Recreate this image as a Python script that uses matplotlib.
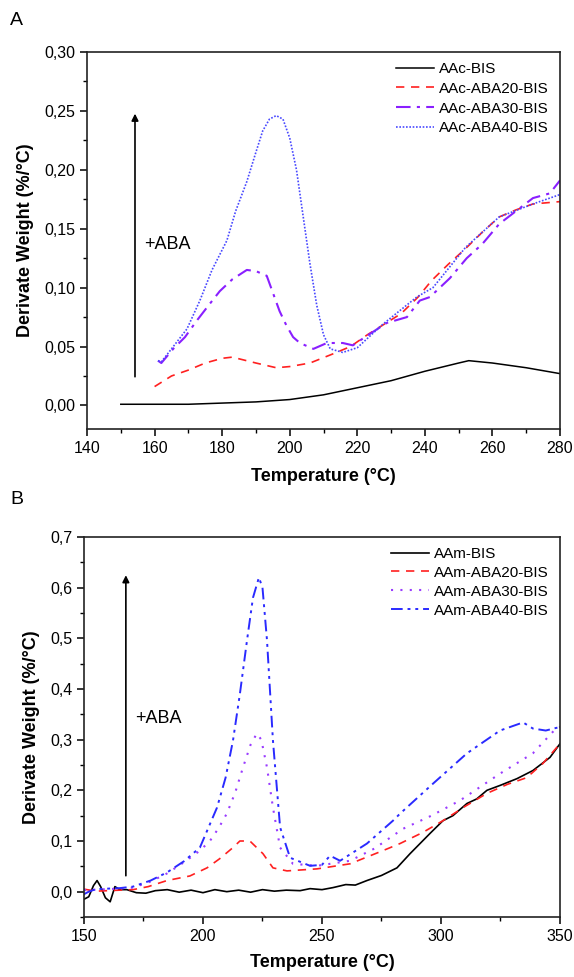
import matplotlib
matplotlib.use("Agg")
import matplotlib.pyplot as plt
from matplotlib.ticker import MultipleLocator, FuncFormatter

plt.rcParams['font.family'] = ['Liberation Sans', 'DejaVu Sans']

# ---------------- Panel A data ----------------
a_bis_T = [150, 155, 160, 165, 170, 175, 180, 190, 200, 210, 220, 230, 240, 250, 253, 260, 270, 280]
a_bis_v = [0.001, 0.001, 0.001, 0.001, 0.001, 0.0015, 0.002, 0.003, 0.005, 0.009, 0.015, 0.021, 0.029, 0.036, 0.038, 0.036, 0.032, 0.027]

a_20_T = [160, 165, 170, 175, 180, 183, 190, 196, 200, 206, 213, 218, 223, 228, 233, 238, 242, 247, 252, 257, 262, 267, 272, 280]
a_20_v = [0.016, 0.025, 0.030, 0.036, 0.040, 0.041, 0.036, 0.032, 0.033, 0.036, 0.044, 0.050, 0.060, 0.069, 0.078, 0.092, 0.106, 0.120, 0.133, 0.147, 0.160, 0.166, 0.171, 0.173]

a_30_T = [161, 162, 165.5, 169, 172.5, 176, 179.3, 183, 187.3, 190, 193.2, 197, 199, 201, 203, 207, 211, 215.7, 218.7, 222.8, 228.7, 234.7, 238.5, 241.5, 247.4, 252.4, 257, 262, 267, 272, 277, 280]
a_30_v = [0.038, 0.036, 0.048, 0.058, 0.072, 0.085, 0.097, 0.107, 0.115, 0.114, 0.110, 0.080, 0.068, 0.058, 0.053, 0.048, 0.053, 0.053, 0.051, 0.059, 0.070, 0.075, 0.089, 0.092, 0.108, 0.125, 0.137, 0.154, 0.165, 0.176, 0.180, 0.191]

a_40_T = [161, 162, 165, 169.6, 173.4, 177, 181.4, 184, 187.3, 190, 192, 194, 196, 198, 200, 202, 204, 206, 208, 210, 212, 215.7, 220, 227.6, 237.6, 242.4, 252, 262, 272, 280]
a_40_v = [0.038, 0.037, 0.048, 0.065, 0.089, 0.115, 0.140, 0.165, 0.190, 0.215, 0.233, 0.243, 0.246, 0.243, 0.227, 0.200, 0.160, 0.120, 0.085, 0.060, 0.048, 0.045, 0.049, 0.069, 0.092, 0.100, 0.134, 0.160, 0.171, 0.179]

# ---------------- Panel B data ----------------
b_bis_T = [150, 152, 154, 155.5, 157, 159, 161, 163, 165, 168, 172, 176, 180, 185, 190, 195, 200, 205, 210, 215, 220, 225, 230, 235, 240.8, 245, 250, 254.6, 260, 264, 268.9, 275, 281.5, 287, 295.4, 300.8, 305, 310.9, 315, 319.3, 325, 331.9, 338.6, 345.8, 350]
b_bis_v = [-0.015, -0.010, 0.012, 0.022, 0.010, -0.012, -0.020, 0.010, 0.004, 0.004, -0.002, -0.003, 0.002, 0.004, -0.001, 0.003, -0.002, 0.004, 0.000, 0.003, -0.001, 0.004, 0.001, 0.003, 0.002, 0.006, 0.004, 0.008, 0.014, 0.013, 0.022, 0.032, 0.047, 0.075, 0.115, 0.140, 0.150, 0.174, 0.183, 0.200, 0.210, 0.223, 0.239, 0.265, 0.292]

b_20_T = [150, 155, 160, 165, 170.6, 177, 184.9, 194.5, 201.7, 207, 212.6, 215.5, 219.7, 225.2, 229.4, 235.3, 247.9, 261.8, 275.6, 282.8, 292.4, 300.8, 310, 319.3, 328, 336, 342.8, 350]
b_20_v = [0.005, 0.001, 0.002, 0.003, 0.004, 0.010, 0.022, 0.031, 0.047, 0.065, 0.087, 0.100, 0.100, 0.075, 0.047, 0.041, 0.045, 0.055, 0.081, 0.095, 0.117, 0.140, 0.168, 0.194, 0.212, 0.225, 0.253, 0.292]

b_30_T = [150, 155, 160, 165, 170.6, 178, 184.9, 192, 198.7, 202.9, 206.5, 210, 213.5, 216.8, 220, 222.6, 224.5, 226.9, 229.4, 232.4, 237.8, 247.9, 261.8, 272, 284, 296, 308, 324.8, 338.6, 348.7, 350]
b_30_v = [0.003, 0.004, 0.005, 0.006, 0.008, 0.020, 0.036, 0.058, 0.081, 0.100, 0.125, 0.154, 0.195, 0.245, 0.290, 0.312, 0.300, 0.245, 0.166, 0.087, 0.055, 0.051, 0.061, 0.085, 0.124, 0.150, 0.180, 0.233, 0.273, 0.324, 0.325]

b_40_T = [150, 152, 155, 160, 165, 170.6, 178, 184.9, 192, 198.7, 205.9, 209.5, 212.6, 215.5, 218.5, 221, 223.5, 225, 226.9, 229.4, 232.4, 236.6, 245, 250, 253.4, 257.6, 268.9, 279.8, 282.8, 296.6, 310.9, 324.8, 334.5, 338.6, 344, 350]
b_40_v = [-0.005, 0.000, 0.005, 0.006, 0.007, 0.010, 0.022, 0.038, 0.060, 0.087, 0.166, 0.225, 0.298, 0.390, 0.496, 0.580, 0.620, 0.600, 0.496, 0.298, 0.127, 0.067, 0.051, 0.053, 0.071, 0.061, 0.095, 0.140, 0.154, 0.213, 0.273, 0.318, 0.334, 0.322, 0.318, 0.325]

labels_A = ["AAc-BIS", "AAc-ABA20-BIS", "AAc-ABA30-BIS", "AAc-ABA40-BIS"]
labels_B = ["AAm-BIS", "AAm-ABA20-BIS", "AAm-ABA30-BIS", "AAm-ABA40-BIS"]

fig = plt.figure(figsize=(5.74, 9.77), dpi=100)
axA = fig.add_axes([0.1516, 0.5609, 0.824, 0.3859])
axB = fig.add_axes([0.1463, 0.0614, 0.8293, 0.3890])

def comma_fmt(decimals):
    return FuncFormatter(lambda v, p: (f"{v:.{decimals}f}").replace(".", ","))

# Panel A
axA.plot(a_bis_T, a_bis_v, color="black", lw=1.1, ls="-", label=labels_A[0])
axA.plot(a_20_T, a_20_v, color="#ff2020", lw=1.2, ls=(0, (5, 4)), label=labels_A[1])
axA.plot(a_30_T, a_30_v, color="#8a1fff", lw=1.5, ls=(0, (7, 3, 1.5, 3)), label=labels_A[2])
axA.plot(a_40_T, a_40_v, color="#4848ff", lw=1.2, ls=(0, (1, 1)), label=labels_A[3])
axA.set_xlim(140, 280)
axA.set_ylim(-0.02, 0.30)
axA.xaxis.set_major_locator(MultipleLocator(20))
axA.xaxis.set_minor_locator(MultipleLocator(10))
axA.yaxis.set_major_locator(MultipleLocator(0.05))
axA.yaxis.set_minor_locator(MultipleLocator(0.025))
axA.yaxis.set_major_formatter(comma_fmt(2))
axA.annotate("", xy=(154.2, 0.25), xytext=(154.2, 0.022),
             arrowprops=dict(arrowstyle="-|>", color="black", lw=1.2, mutation_scale=10))
axA.text(157, 0.137, "+ABA", fontsize=13, ha="left", va="center")
axA.set_xlabel("Temperature (°C)", fontsize=13, fontweight="bold", labelpad=9)
axA.set_ylabel("Derivate Weight (%/°C)", fontsize=13, fontweight="bold", labelpad=7)
fig.text(0.018, 0.979, "A", fontsize=14, ha="left", va="center")

# Panel B
axB.plot(b_bis_T, b_bis_v, color="black", lw=1.2, ls="-", label=labels_B[0])
axB.plot(b_20_T, b_20_v, color="#ff2020", lw=1.2, ls=(0, (5, 4)), label=labels_B[1])
axB.plot(b_30_T, b_30_v, color="#9a3cff", lw=1.5, ls=(0, (1, 3.5)), label=labels_B[2])
axB.plot(b_40_T, b_40_v, color="#2a2aff", lw=1.4, ls=(0, (6, 2.5, 1.5, 2.5, 1.5, 2.5)), label=labels_B[3])
axB.set_xlim(150, 350)
axB.set_ylim(-0.05, 0.70)
axB.xaxis.set_major_locator(MultipleLocator(50))
axB.xaxis.set_minor_locator(MultipleLocator(25))
axB.yaxis.set_major_locator(MultipleLocator(0.1))
axB.yaxis.set_minor_locator(MultipleLocator(0.05))
axB.yaxis.set_major_formatter(comma_fmt(1))
axB.annotate("", xy=(167.6, 0.63), xytext=(167.6, 0.026),
             arrowprops=dict(arrowstyle="-|>", color="black", lw=1.2, mutation_scale=10))
axB.text(171.5, 0.342, "+ABA", fontsize=13, ha="left", va="center")
axB.set_xlabel("Temperature (°C)", fontsize=13, fontweight="bold", labelpad=7)
axB.set_ylabel("Derivate Weight (%/°C)", fontsize=13, fontweight="bold", labelpad=7)
fig.text(0.018, 0.489, "B", fontsize=14, ha="left", va="center")

for ax, lsp in ((axA, 0.38), (axB, 0.32)):
    for s in ax.spines.values():
        s.set_linewidth(1.2)
        s.set_color("#222222")
    ax.tick_params(which="both", direction="out", top=False, right=False, labelsize=11.5)
    ax.tick_params(which="major", length=5, width=1.1)
    ax.tick_params(which="minor", length=3, width=1.0)
    ax.legend(loc="upper right", frameon=False, fontsize=11, handlelength=2.5,
              handletextpad=0.3, labelspacing=lsp, borderaxespad=0.25,
              bbox_to_anchor=(0.997, 1.0))

fig.savefig("out.png", dpi=100)
